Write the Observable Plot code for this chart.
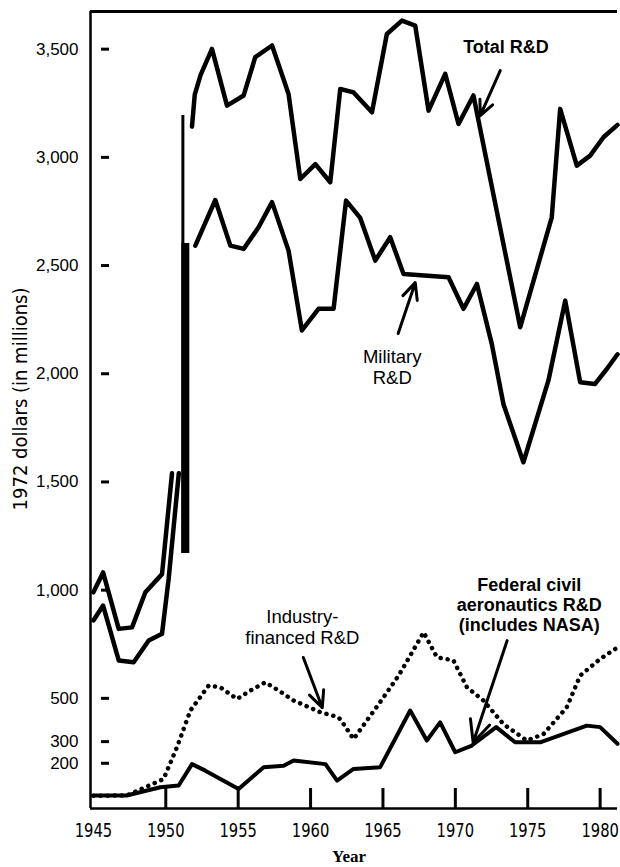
<!DOCTYPE html>
<html><head><meta charset="utf-8">
<script src="https://cdn.jsdelivr.net/npm/d3@7"></script>
<script src="https://cdn.jsdelivr.net/npm/@observablehq/plot@0.6"></script>
<style>body{margin:0;background:#fff} #chart svg{display:block}</style>
</head><body><div id="chart"></div><script>
// ---- data (year, 1972 dollars in millions) ----
const totalEarly = [[1945.0,990],[1945.67,1082],[1946.75,821],[1947.67,828],[1948.59,990],[1949.74,1074],[1950.43,1540]];
const totalLate = [[1951.81,3142],[1952.0,3290],[1952.4,3380],[1953.19,3501],[1954.23,3239],[1955.38,3286],[1956.18,3463],[1957.34,3517],[1958.48,3293],[1959.29,2900],[1960.33,2969],[1961.36,2885],[1962.05,3316],[1962.97,3300],[1964.24,3208],[1965.27,3570],[1966.31,3632],[1967.23,3609],[1968.15,3216],[1969.30,3386],[1970.22,3154],[1971.25,3286],[1974.48,2215],[1976.66,2723],[1977.24,3224],[1978.39,2962],[1979.31,3008],[1980.23,3093],[1981.2,3150]];
const militaryEarly = [[1945.0,860],[1945.67,929],[1946.75,675],[1947.78,667],[1948.82,767],[1949.74,798],[1950.2,1054],[1950.9,1540]];
const militaryLate = [[1952.04,2592],[1953.42,2803],[1954.46,2592],[1955.38,2577],[1956.41,2677],[1957.34,2793],[1958.48,2569],[1959.4,2200],[1960.55,2300],[1961.59,2300],[1962.45,2800],[1963.43,2720],[1964.47,2523],[1965.5,2631],[1966.42,2461],[1969.53,2446],[1970.56,2300],[1971.49,2415],[1972.52,2137],[1973.32,1860],[1974.70,1591],[1976.43,1969],[1977.59,2338],[1978.62,1961],[1979.65,1953],[1980.46,2022],[1981.2,2090]];
const industry = [[1945,50],[1947.3,51],[1949.85,127],[1950.77,274],[1951.7,444],[1952.96,559],[1953.77,551],[1954.92,497],[1955.84,536],[1956.87,574],[1957.45,551],[1958.83,490],[1960.67,436],[1961.93,413],[1962.28,381],[1962.97,312],[1965.04,505],[1966.08,605],[1967.81,805],[1968.73,690],[1969.87,675],[1970.80,551],[1971.94,490],[1973.32,381],[1974.94,305],[1976.09,335],[1977.70,459],[1978.62,605],[1980.0,682],[1981.2,735]];
const federalCivil = [[1945,51],[1947.3,51],[1949.63,89],[1950.89,97],[1951.81,196],[1952.73,166],[1955.03,81],[1956.76,182],[1958.14,189],[1958.83,213],[1961.03,196],[1961.83,120],[1962.97,174],[1964.81,182],[1966.88,444],[1968.03,305],[1968.95,389],[1969.99,251],[1971.14,282],[1972.82,367],[1974.13,297],[1975.86,297],[1979.08,374],[1980,367],[1981.2,290]];
// vertical jumps of the Korean-war build-up
const totalJump = [{year: 1951.18, lo: 1169, hi: 3193}];
const militaryJump = [{year: 1951.35, lo: 1169, hi: 2602}];
// axes
const xDomain = [1944.8, 1981.2];
const yDomain = [-9, 3674];
const xLabels = [1945, 1950, 1955, 1960, 1965, 1970, 1975, 1980];
const xTickMarks = [1950, 1955, 1960, 1965, 1970, 1975, 1980];
const yTicks = [200, 300, 500, 1000, 1500, 2000, 2500, 3000, 3500];
// annotations
const boldNotes = [
  {year: 1973.5, value: 3512, text: "Total R&D"},
  {year: 1975.1, value: 933, text: "Federal civil\naeronautics R&D\n(includes NASA)"}
];
const plainNotes = [
  {year: 1965.64, value: 2033, text: "Military\nR&D"},
  {year: 1959.43, value: 832, text: "Industry-\nfinanced R&D"}
];
const arrows = [
  {x1: 1973.10, y1: 3401, x2: 1971.72, y2: 3193},
  {x1: 1966.05, y1: 2186, x2: 1967.23, y2: 2421},
  {x1: 1959.50, y1: 689, x2: 1960.81, y2: 457},
  {x1: 1973.58, y1: 767, x2: 1971.23, y2: 296}
];

const rows = a => a.map(([year, value]) => ({year, value}));
const lineOpts = {x: "year", y: "value", stroke: "#000", strokeWidth: 4.5, strokeLinejoin: "round", strokeLinecap: "round"};
const narrow = "'Liberation Sans Narrow', 'DejaVu Sans Condensed', 'Arial Narrow', 'Liberation Sans', sans-serif";
const sans = "'Liberation Sans', Arial, Helvetica, sans-serif";

const chart = Plot.plot({
  width: 620, height: 867,
  marginLeft: 90, marginRight: 3, marginTop: 11, marginBottom: 59,
  x: {domain: xDomain},
  y: {domain: yDomain},
  style: {background: "#fff", color: "#000"},
  marks: [
    Plot.ruleX([xDomain[0]], {strokeWidth: 2.5}),
    Plot.ruleY([yDomain[1]], {strokeWidth: 3}),
    Plot.ruleY([yDomain[0]], {strokeWidth: 2.5}),
    Plot.tickY(yTicks, {y: d => d, insetLeft: 11, insetRight: 508, strokeWidth: 3}),
    Plot.tickX(xTickMarks, {x: d => d, insetTop: 777, strokeWidth: 3}),
    Plot.axisY({ticks: yTicks, tickSize: 0, tickPadding: 12, tickFormat: d3.format(","), fontSize: 17, fontFamily: sans, label: null}),
    Plot.axisX({ticks: xLabels, tickSize: 0, tickPadding: 14, tickFormat: d => String(d), fontSize: 20, fontFamily: narrow, label: null}),
    Plot.text(["1972 dollars (in millions)"], {frameAnchor: "left", rotate: -90, dx: -70, dy: -11, fontSize: 20, fontFamily: narrow, textAnchor: "middle", lineAnchor: "middle"}),
    Plot.text(["Year"], {frameAnchor: "bottom", dx: -5, dy: 48, fontSize: 17, fontWeight: "bold", fontFamily: "'Liberation Serif', 'Times New Roman', serif", lineAnchor: "middle"}),
    Plot.line(rows(industry), {...lineOpts, strokeDasharray: "0.1 7"}),
    Plot.line(rows(federalCivil), {...lineOpts, strokeWidth: 4}),
    Plot.line(rows(totalEarly), lineOpts),
    Plot.line(rows(totalLate), lineOpts),
    Plot.line(rows(militaryEarly), lineOpts),
    Plot.line(rows(militaryLate), lineOpts),
    Plot.ruleX(totalJump, {x: "year", y1: "lo", y2: "hi", strokeWidth: 3}),
    Plot.ruleX(militaryJump, {x: "year", y1: "lo", y2: "hi", strokeWidth: 8}),
    Plot.arrow(arrows, {x1: "x1", y1: "y1", x2: "x2", y2: "y2", strokeWidth: 3, headLength: 12, headAngle: 50}),
    Plot.text(boldNotes, {x: "year", y: "value", text: "text", fontSize: 18, fontWeight: "bold", fontFamily: sans, lineHeight: 1.12}),
    Plot.text(plainNotes, {x: "year", y: "value", text: "text", fontSize: 18.5, fontFamily: sans, lineHeight: 1.12})
  ]
});
// condense the x tick labels (the reference uses a condensed face)
d3.select(chart).selectAll("g[aria-label='x-axis tick label'] text").each(function() {
  const tr = this.getAttribute("transform") || "";
  const x = +(this.getAttribute("x") || 0);
  this.setAttribute("transform", `${tr} translate(${x},0) scale(0.82,1) translate(${-x},0)`);
});
document.getElementById("chart").appendChild(chart);
</script></body></html>
